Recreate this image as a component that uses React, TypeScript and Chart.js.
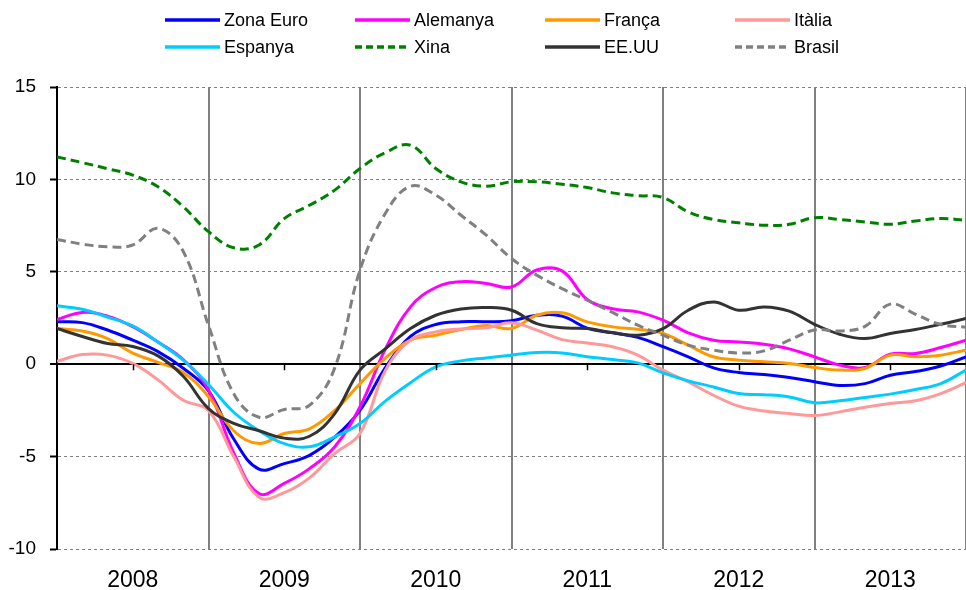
import React, { useEffect, useRef } from 'react';
import { Chart, registerables } from 'chart.js';

Chart.register(...registerables);

// x positions in months since Jan 2008 (bimonthly readings)
const months = [0, 2, 4, 6, 8, 10, 12, 14, 16, 18, 20, 22, 24, 26, 28, 30, 32, 34, 36, 38, 40, 42, 44, 46, 48, 50, 52, 54, 56, 58, 60, 62, 64, 66, 68, 70, 72];
const yearLabels = ['2008', '2009', '2010', '2011', '2012', '2013'];
const yearCenters = [6, 18, 30, 42, 54, 66];
const yearBounds = [0, 12, 24, 36, 48, 60, 72];

const zonaEuro = [2.3, 2.25, 1.85, 1.3, 0.68, -0.22, -1.45, -4.05, -5.68, -5.38, -4.93, -3.95, -2.5, -0.2, 1.5, 2.15, 2.3, 2.3, 2.35, 2.65, 2.6, 1.95, 1.7, 1.45, 0.95, 0.4, -0.2, -0.45, -0.56, -0.72, -0.95, -1.15, -1.05, -0.6, -0.4, -0.1, 0.4];
const alemanya = [2.42, 2.8, 2.6, 2.03, 1.2, 0.25, -1.4, -4.8, -7.0, -6.45, -5.65, -4.47, -2.3, 0.8, 3.1, 4.15, 4.46, 4.37, 4.18, 5.1, 5.05, 3.5, 3.0, 2.83, 2.38, 1.7, 1.3, 1.2, 1.08, 0.83, 0.4, -0.05, -0.18, 0.54, 0.58, 0.9, 1.3];
const franca = [1.93, 1.8, 1.39, 0.6, 0.1, -0.45, -1.75, -3.6, -4.29, -3.75, -3.5, -2.5, -1.05, 0.32, 1.3, 1.57, 1.88, 2.1, 1.93, 2.65, 2.78, 2.29, 2.02, 1.89, 1.66, 1.03, 0.4, 0.22, 0.13, 0.04, -0.18, -0.32, -0.23, 0.49, 0.4, 0.49, 0.76];
const italia = [0.16, 0.52, 0.49, 0.04, -0.85, -1.95, -2.5, -5.0, -7.2, -6.95, -6.15, -4.83, -3.75, -0.35, 1.3, 1.75, 1.91, 1.97, 2.24, 1.84, 1.33, 1.15, 0.94, 0.49, -0.32, -0.96, -1.68, -2.27, -2.53, -2.67, -2.78, -2.58, -2.33, -2.13, -1.98, -1.59, -1.0];
const espanya = [3.16, 2.97, 2.55, 2.07, 1.2, 0.22, -1.1, -2.6, -3.6, -4.3, -4.47, -3.93, -3.21, -2.0, -1.0, -0.14, 0.18, 0.34, 0.49, 0.63, 0.61, 0.4, 0.25, 0.07, -0.47, -0.9, -1.23, -1.59, -1.65, -1.77, -2.09, -1.98, -1.8, -1.62, -1.37, -1.05, -0.32];
const xina = [11.22, 10.91, 10.58, 10.23, 9.6, 8.52, 7.17, 6.3, 6.45, 7.88, 8.6, 9.42, 10.59, 11.45, 11.85, 10.59, 9.87, 9.63, 9.87, 9.87, 9.74, 9.56, 9.27, 9.12, 9.02, 8.24, 7.83, 7.65, 7.52, 7.57, 7.93, 7.83, 7.7, 7.57, 7.75, 7.88, 7.79];
const eeuu = [1.93, 1.5, 1.12, 0.96, 0.45, -0.65, -2.4, -3.2, -3.6, -4.0, -3.9, -2.67, -0.32, 0.83, 1.93, 2.65, 2.99, 3.07, 2.92, 2.2, 1.97, 1.93, 1.71, 1.57, 1.93, 2.92, 3.37, 2.92, 3.1, 2.87, 2.16, 1.62, 1.39, 1.66, 1.88, 2.16, 2.47];
const brasil = [6.75, 6.5, 6.35, 6.45, 7.35, 6.1, 2.1, -1.6, -2.87, -2.45, -2.22, -0.2, 5.09, 8.15, 9.63, 9.15, 8.06, 6.98, 5.72, 4.82, 4.09, 3.46, 2.8, 2.11, 1.57, 1.03, 0.76, 0.61, 0.72, 1.3, 1.85, 1.8, 2.05, 3.25, 2.7, 2.15, 2.0];

const seriesNames = ['Zona Euro', 'Alemanya', 'França', 'Itàlia', 'Espanya', 'Xina', 'EE.UU', 'Brasil'];
const seriesValues = [zonaEuro, alemanya, franca, italia, espanya, xina, eeuu, brasil];
const seriesColors = ['#0000FF', '#FF00FF', '#FF9900', '#FF9999', '#00CCFF', '#008000', '#333333', '#808080'];
const seriesDashed = [false, false, false, false, false, true, false, true];

const FONT = '"Liberation Sans", Arial, sans-serif';

const zeroTicksPlugin = {
  id: 'zeroTicks',
  afterDatasetsDraw(chart: any) {
    const xs = chart.scales.x;
    const ys = chart.scales.y;
    const ctx = chart.ctx;
    const y0 = ys.getPixelForValue(0);
    ctx.save();
    ctx.strokeStyle = '#000';
    ctx.lineWidth = 1.5;
    ctx.beginPath();
    yearCenters.forEach((v) => {
      const x = Math.round(xs.getPixelForValue(v)) + 0.5;
      ctx.moveTo(x, y0);
      ctx.lineTo(x, y0 + 6);
    });
    ctx.stroke();
    ctx.restore();
  },
};

export default function App() {
  const canvasRef = useRef<HTMLCanvasElement | null>(null);

  useEffect(() => {
    if (!canvasRef.current) return;
    const datasets = seriesNames.map((name, i) => ({
      label: name,
      data: months.map((m, j) => ({ x: m, y: seriesValues[i][j] })),
      borderColor: seriesColors[i],
      backgroundColor: seriesColors[i],
      borderWidth: 3,
      borderDash: seriesDashed[i] ? [9, 5] : [],
      pointRadius: 0,
      tension: 0.4,
      fill: false,
      order: seriesNames.length - i,
    }));
    const chart = new Chart(canvasRef.current, {
      type: 'line',
      data: { datasets },
      plugins: [zeroTicksPlugin],
      options: {
        animation: false,
        responsive: false,
        maintainAspectRatio: false,
        layout: { padding: { top: 87, left: 0, right: 0, bottom: 0 } },
        plugins: { legend: { display: false }, tooltip: { enabled: false } },
        scales: {
          x: {
            type: 'linear',
            position: 'bottom',
            min: 0,
            max: 72,
            afterBuildTicks: (s: any) => {
              s.ticks = yearCenters.map((v) => ({ value: v }));
            },
            afterFit: (s: any) => {
              s.height = 41;
            },
            grid: { display: false, drawTicks: false },
            border: { display: false },
            ticks: {
              autoSkip: false,
              maxRotation: 0,
              padding: 18,
              color: '#000',
              font: { family: FONT, size: 23 },
              callback: (v: any) => {
                const k = yearCenters.indexOf(Number(v));
                return k >= 0 ? yearLabels[k] : '';
              },
            },
          },
          x2: {
            type: 'linear',
            position: 'top',
            min: 0,
            max: 72,
            afterBuildTicks: (s: any) => {
              s.ticks = yearBounds.map((v) => ({ value: v }));
            },
            afterFit: (s: any) => {
              s.height = 0;
            },
            ticks: { display: false },
            grid: {
              drawTicks: false,
              lineWidth: 2,
              color: (c: any) => (c.tick && c.tick.value === 0 ? 'rgba(0,0,0,0)' : '#808080'),
            },
            border: { display: false },
          },
          y: {
            type: 'linear',
            min: -10,
            max: 15,
            afterFit: (s: any) => {
              s.width = 57;
            },
            ticks: {
              stepSize: 5,
              padding: 14,
              color: '#000',
              font: { family: FONT, size: 19 },
            },
            grid: {
              color: (c: any) => (c.tick && c.tick.value === 0 ? '#000000' : '#808080'),
              lineWidth: (c: any) => (c.tick && c.tick.value === 0 ? 2 : 1),
              tickColor: '#000',
              tickLength: 7,
              tickWidth: 2,
            },
            border: {
              display: true,
              color: '#000',
              width: 2,
              dash: (c: any) => (c.tick && c.tick.value !== 0 ? [3, 3] : []),
            },
          },
        },
      } as any,
    });
    return () => chart.destroy();
  }, []);

  return (
    <div
      style={{
        position: 'absolute',
        left: 0,
        top: 0,
        width: 966,
        height: 590,
        background: '#fff',
        fontFamily: FONT,
        overflow: 'hidden',
      }}
    >
      <canvas
        ref={canvasRef}
        width={966}
        height={590}
        style={{ position: 'absolute', left: 0, top: 0, width: 966, height: 590 }}
      />
      {seriesNames.map((name, i) => {
        const col = i % 4;
        const row = Math.floor(i / 4);
        return (
          <div
            key={name}
            style={{
              position: 'absolute',
              left: 165 + col * 190,
              top: 20 + row * 27 - 11,
              height: 22,
              display: 'flex',
              alignItems: 'center',
              whiteSpace: 'nowrap',
            }}
          >
            <svg width={55} height={8} style={{ display: 'block' }}>
              <line
                x1={0}
                y1={4}
                x2={55}
                y2={4}
                stroke={seriesColors[i]}
                strokeWidth={3.5}
                strokeDasharray={seriesDashed[i] ? '7 4' : undefined}
              />
            </svg>
            <span style={{ marginLeft: 4, fontSize: 18, color: '#000', lineHeight: '22px' }}>{name}</span>
          </div>
        );
      })}
    </div>
  );
}
